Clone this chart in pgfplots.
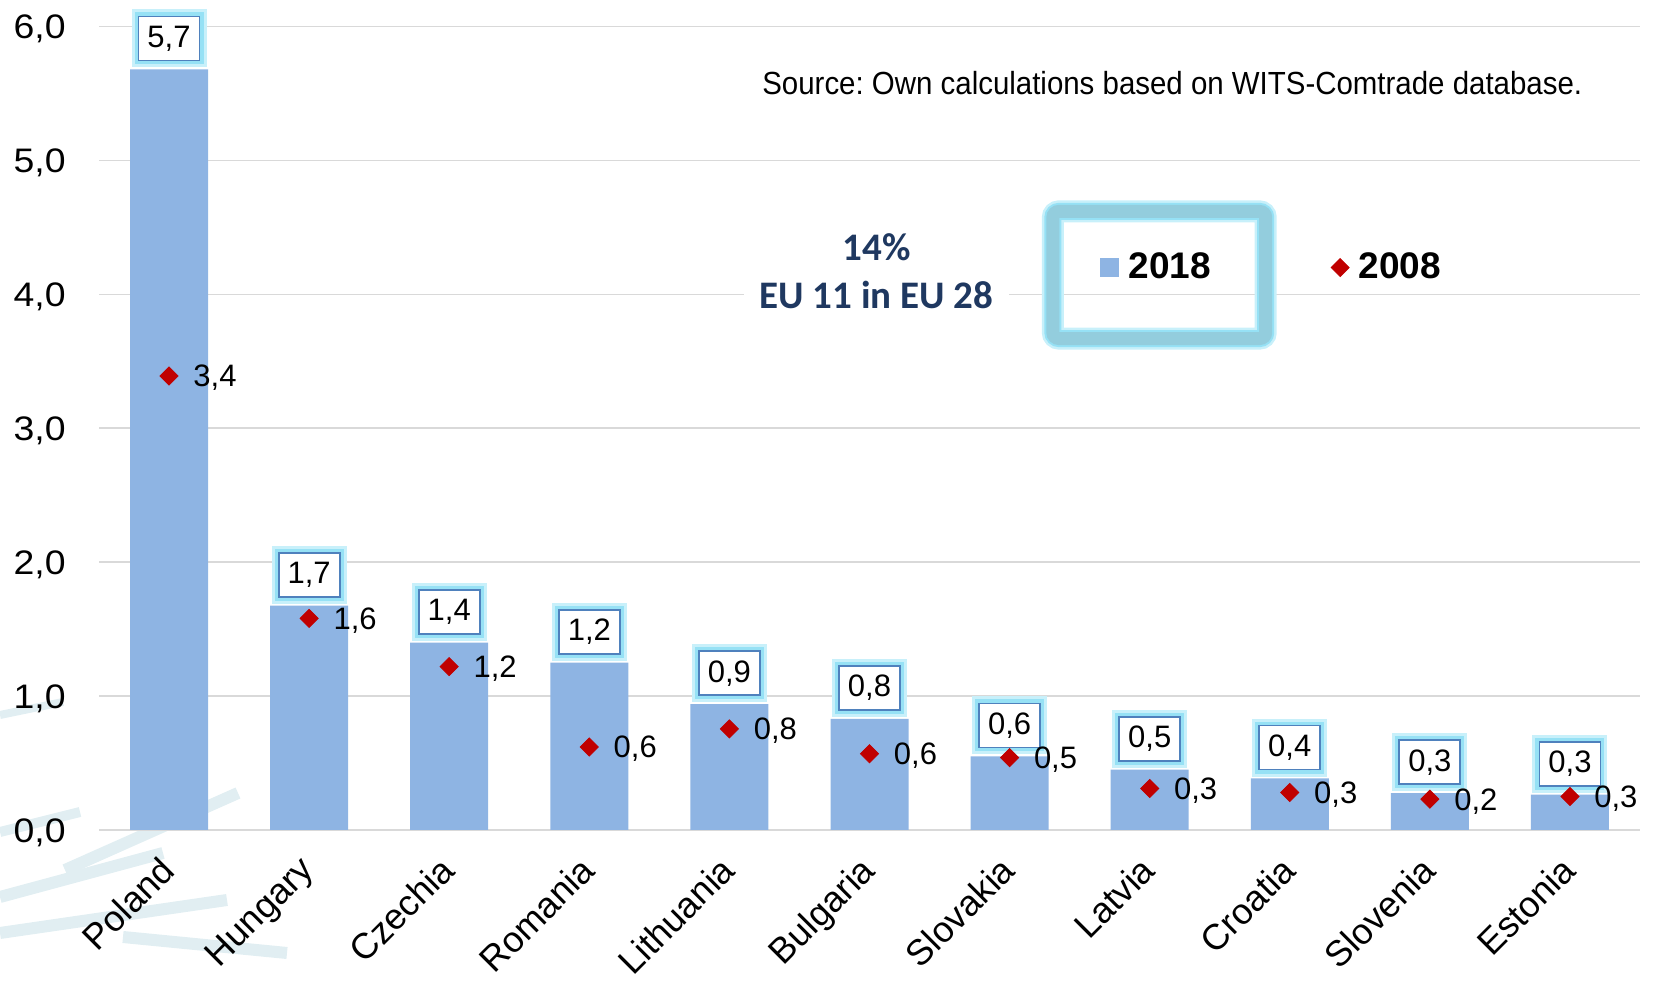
\documentclass[border=0pt]{standalone}
\usepackage{pgfplots}
\pgfplotsset{compat=1.18}
\usepackage{pgfplotstable}
\usepackage{fontspec}
\setmainfont{Liberation Sans}
\newfontfamily\calfont{Carlito}
\newfontfamily\widefont[FakeStretch=1.1]{Liberation Sans}
\newfontfamily\narrowfont[FakeStretch=0.92]{Liberation Sans}
\definecolor{barc}{RGB}{142,180,227}
\definecolor{dred}{RGB}{192,0,0}
\definecolor{boxb}{RGB}{79,129,189}
\definecolor{glowa}{RGB}{200,240,250}
\definecolor{glowb}{RGB}{150,225,245}
\definecolor{gridc}{RGB}{217,217,217}
\definecolor{navy}{RGB}{31,56,96}
\definecolor{framec}{RGB}{147,205,221}
\definecolor{wmark}{RGB}{225,238,242}
\pgfplotstableread{
x name bar bl dia dl
0 Poland 5.68 5,7 3.39 3,4
1 Hungary 1.675 1,7 1.58 1,6
2 Czechia 1.40 1,4 1.22 1,2
3 Romania 1.25 1,2 0.62 0,6
4 Lithuania 0.94 0,9 0.755 0,8
5 Bulgaria 0.83 0,8 0.57 0,6
6 Slovakia 0.55 0,6 0.54 0,5
7 Latvia 0.45 0,5 0.31 0,3
8 Croatia 0.385 0,4 0.28 0,3
9 Slovenia 0.275 0,3 0.23 0,2
10 Estonia 0.265 0,3 0.25 0,3
}\datatable
\begin{document}
\frenchspacing
\begin{tikzpicture}
\useasboundingbox (0,0) rectangle (826.5pt,492pt);
% faint background watermark (decoration)
\begin{scope}[wmark, line cap=butt, x=0.5pt, y=-0.5pt, shift={(0pt,492pt)}]
\draw[line width=4pt] (0,715) -- (63,702);
\draw[line width=5pt] (0,832) -- (80,812);
\draw[line width=6pt] (65,870) -- (238,793);
\draw[line width=6pt] (0,897) -- (163,853);
\draw[line width=6pt] (0,933) -- (227,900);
\draw[line width=6pt] (123,937) -- (287,953);
\end{scope}
\begin{axis}[
  at={(49.5pt,77pt)}, anchor=south west,
  scale only axis, width=770.5pt, height=401.75pt,
  xmin=-0.5, xmax=10.5, ymin=0, ymax=6,
  xtick={0,...,10},
  xticklabels={Poland,Hungary,Czechia,Romania,Lithuania,Bulgaria,Slovakia,Latvia,Croatia,Slovenia,Estonia},
  ytick={0,1,...,6},
  yticklabel style={/pgf/number format/fixed, /pgf/number format/fixed zerofill, /pgf/number format/precision=1, /pgf/number format/use comma, /pgf/number format/assume math mode=true},
  yticklabel style={font=\widefont\fontsize{17}{20}\selectfont, inner sep=0pt, anchor=east, xshift=-16.5pt, yshift=-1.2pt},
  xticklabel style={font=\fontsize{18}{21}\selectfont, inner sep=0pt, anchor=north east, xshift=-5.5pt, yshift=-12pt, rotate=45},
  axis line style={draw=none},
  major tick style={draw=none},
  ymajorgrids, major grid style={draw=gridc, line width=0.8pt},
  clip=false,
  legend columns=2,
  legend style={at={(0.6496,0.700)}, anchor=west, draw=none, fill=none, inner sep=0pt,
    font=\bfseries\fontsize{18.5}{22}\selectfont,
    nodes={inner xsep=0pt},
    /tikz/every odd column/.append style={column sep=4.5pt},
    /tikz/every even column/.append style={column sep=60pt}},
]
% legend frame with glow
\draw[glowa, line width=11pt, rounded corners=3pt] (axis cs:6.309,3.670) rectangle (axis cs:7.828,4.619);
\draw[glowb, line width=8.5pt, rounded corners=3pt] (axis cs:6.309,3.670) rectangle (axis cs:7.828,4.619);
\draw[framec, line width=6.5pt, rounded corners=3pt] (axis cs:6.309,3.670) rectangle (axis cs:7.828,4.619);
\node[fill=white, text=navy, font=\calfont\bfseries\fontsize{19.5}{24}\selectfont, align=center, inner ysep=2pt, inner xsep=8pt] at (axis cs:5.05,4.17) {14\%\\EU 11 in EU 28};
\node[font=\narrowfont\fontsize{16}{19}\selectfont, anchor=east, inner sep=0pt] at (axis cs:10.09,5.58) {Source: Own calculations based on WITS-Comtrade database.};
\addplot[ybar, bar width=39pt, fill=barc, draw=none,
  point meta=explicit symbolic,
  nodes near coords,
  every node near coord/.style={anchor=south, yshift=4pt, draw=boxb, fill=white, line width=0.9pt,
    minimum width=30.5pt, minimum height=22pt, inner sep=0pt,
    font=\fontsize{15.5}{18}\selectfont,
    preaction={draw=glowa, line width=7pt},
    preaction={draw=glowb, line width=4pt}},
  legend image code/.code={\fill[barc] (0pt,-4.75pt) rectangle (9.5pt,4.75pt);}
] table[x=x, y=bar, meta=bl] {\datatable};
\addlegendentry{2018}
\addplot[only marks, mark=square*, mark size=3.2pt, mark options={rotate=45, fill=dred, draw=dred},
  point meta=explicit symbolic,
  nodes near coords,
  every node near coord/.style={anchor=west, xshift=12pt, yshift=-1pt, inner sep=0pt, font=\fontsize{15.5}{18}\selectfont},
  legend image code/.code={\fill[dred] (0pt,0pt) -- (4.5pt,4.5pt) -- (9pt,0pt) -- (4.5pt,-4.5pt) -- cycle;}
] table[x=x, y=dia, meta=dl] {\datatable};
\addlegendentry{2008}
\end{axis}
\end{tikzpicture}
\end{document}
